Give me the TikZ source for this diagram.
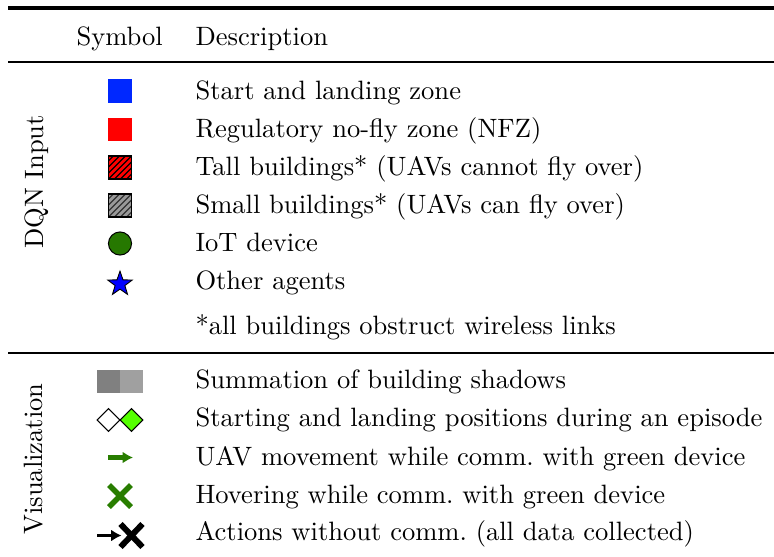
\documentclass[tikz,border=0pt]{standalone}
\usetikzlibrary{shapes.geometric,arrows.meta,calc}
\definecolor{zoneblue}{RGB}{0,40,255}
\definecolor{devgreen}{RGB}{38,120,0}
\definecolor{movegreen}{RGB}{40,125,0}
\definecolor{limegreen}{RGB}{85,255,0}
\definecolor{bldgray}{RGB}{153,153,153}
\definecolor{hatchgray}{RGB}{50,50,50}
\definecolor{shadowdark}{RGB}{128,128,128}
\definecolor{shadowlight}{RGB}{160,160,160}
\tikzset{
  txt/.style={inner sep=0pt, font=\fontsize{10.35}{12}\selectfont},
  desc/.style={txt, anchor=base west},
  head/.style={txt, anchor=base west},
  side/.style={txt, rotate=90, anchor=base},
  sq/.style={rectangle, minimum size=9pt, inner sep=0pt},
  hatched/.style={sq, draw=black, line width=0.45pt,
    path picture={
      \foreach \k in {-4,...,4}
        \draw[#1, line width=0.45pt]
          ([xshift=\k*2.35pt]path picture bounding box.center) ++(-20,20) -- ++(40,-40);
    }},
  boldrule/.style={line width=1.35pt},
  thinrule/.style={line width=0.6pt},
  mover/.style={line width=1.6pt, -{Latex[length=4pt,width=4.6pt]}},
  cross/.style={line width=2.1pt},
}
\begin{document}
\begin{tikzpicture}[x=0.39pt,y=-0.39pt]
  \useasboundingbox (0,0) rectangle (774,556);

  % table rules
  \coordinate (r1l) at (8,8);   \coordinate (r1r) at (774,8);
  \coordinate (r2l) at (8,62);  \coordinate (r2r) at (774,62);
  \coordinate (r3l) at (8,353); \coordinate (r3r) at (774,353);
  \draw[boldrule] (r1l) -- (r1r);
  \draw[thinrule] (r2l) -- (r2r);
  \draw[thinrule] (r3l) -- (r3r);

  % header
  \node[head] (hsym) at (76,45.7) {Symbol};
  \node[head] (hdesc) at (195,45.7) {Description};

  % group labels
  \node[side] (gdqn) at (43,182) {DQN Input};
  \node[side] (gvis) at (42,459) {Visualization};

  % DQN input symbols
  \node[sq, fill=zoneblue, minimum size=9.4pt] (sstart) at (120,91) {};
  \node[sq, fill=red] (snfz) at (120,129.5) {};
  \node[hatched=black, fill=red] (stall) at (120,167.5) {};
  \node[hatched=hatchgray, fill=bldgray] (ssmall) at (120,205.5) {};
  \node[circle, draw=black, line width=0.4pt, fill=devgreen, minimum size=9pt, inner sep=0pt] (siot) at (120,243.5) {};
  \node[star, star points=5, star point ratio=2.5, draw=black, line width=0.35pt, fill=blue,
        minimum size=10pt, inner sep=0pt] (sagent) at (120,284) {};

  % DQN input descriptions
  \node[desc] (dstart) at (195,99)    {Start and landing zone};
  \node[desc] (dnfz)   at (195,137.2) {Regulatory no-fly zone (NFZ)};
  \node[desc] (dtall)  at (195,175.3) {Tall buildings* (UAVs cannot fly over)};
  \node[desc] (dsmall) at (195,213.5) {Small buildings* (UAVs can fly over)};
  \node[desc] (diot)   at (195,251.6) {IoT device};
  \node[desc] (dagent) at (195,289.5) {Other agents};
  \node[desc] (dnote)  at (195,334)   {*all buildings obstruct wireless links};

  % visualization symbols
  \node[rectangle, fill=shadowdark, minimum width=9pt, minimum height=9pt, inner sep=0pt] (vsh1) at (108.5,381.5) {};
  \node[rectangle, fill=shadowlight, minimum width=9pt, minimum height=9pt, inner sep=0pt] (vsh2) at (131.5,381.5) {};

  \node[diamond, draw=black, line width=0.4pt, fill=white, minimum size=9pt, inner sep=0pt] (vstart) at (108.5,420) {};
  \node[diamond, draw=black, line width=0.4pt, fill=limegreen, minimum size=9pt, inner sep=0pt] (vland) at (131.5,420) {};

  \coordinate (ma) at (108,457.5);
  \coordinate (mb) at (133,457.5);
  \draw[mover, draw=movegreen, fill=movegreen] (ma) -- (mb);

  \coordinate (hc) at (120,496);
  \draw[cross, movegreen] ($(hc)+(-11,-11)$) -- ($(hc)+(11,11)$);
  \draw[cross, movegreen] ($(hc)+(-11,11)$) -- ($(hc)+(11,-11)$);

  \coordinate (na) at (97,535.5);
  \coordinate (nb) at (121.5,535.5);
  \draw[mover, line width=1.45pt] (na) -- (nb);
  \coordinate (xc) at (131.5,535.5);
  \draw[cross, line width=2.3pt] ($(xc)+(-11,-11.5)$) -- ($(xc)+(11,11.5)$);
  \draw[cross, line width=2.3pt] ($(xc)+(-11,11.5)$) -- ($(xc)+(11,-11.5)$);

  % visualization descriptions
  \node[desc] (vdsh)    at (195,388.3) {Summation of building shadows};
  \node[desc] (vdpos)   at (195,426.6) {Starting and landing positions during an episode};
  \node[desc] (vdmove)  at (195,465)   {UAV movement while comm.\ with green device};
  \node[desc] (vdhover) at (195,503.3) {Hovering while comm.\ with green device};
  \node[desc] (vdact)   at (195,540.8) {Actions without comm.\ (all data collected)};
\end{tikzpicture}
\end{document}
